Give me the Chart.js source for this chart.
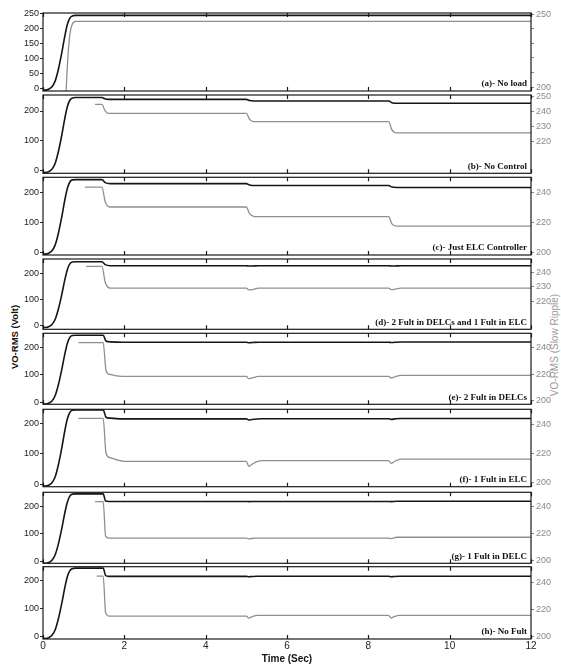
<!DOCTYPE html>
<html>
<head>
<meta charset="utf-8">
<script src="https://cdn.jsdelivr.net/npm/chart.js@4.4.1/dist/chart.umd.min.js"></script>
<style>
html, body { margin: 0; padding: 0; background: #fff; }
#fig { position: relative; width: 561px; height: 667px; overflow: hidden; background: #fff; }
#fig canvas { position: absolute; left: 0; }
.ytitle { position: absolute; white-space: nowrap; transform: translate(-50%, -50%) rotate(-90deg);
          font-family: "Liberation Sans", Arial, sans-serif; }
</style>
</head>
<body>
<div id="fig">
  <div class="ytitle" style="left:14px;top:337px;font-size:9.5px;font-weight:bold;color:#111">VO-RMS (Volt)</div>
  <div class="ytitle" style="left:554px;top:345px;font-size:10px;color:#9a9a9a">VO-RMS (Slow Ripple)</div>
</div>
<script>
// Start-up transient common to every run: time (s) and RMS output voltage (V)
const riseTime  = [0, 0.06, 0.14, 0.22, 0.30, 0.38, 0.46, 0.54, 0.60, 0.66, 0.72];
const riseVolts = [-5, -6, -3, 5, 25, 65, 118, 178, 215, 236, 243];

// Response after start-up for each operating case (load steps near 1.5 s, 5.05 s, 8.55 s)
const noLoadTime  = [0.8, 12];
const noLoadVolts = [245, 245];

const noControlTime  = [0.8, 1.45, 1.52, 1.60, 5.00, 5.08, 5.18, 8.50, 8.58, 8.70, 12];
const noControlVolts = [245, 245, 241, 239, 239, 235, 233.5, 233.5, 228, 226, 226];

const elcOnlyTime  = [0.8, 1.45, 1.53, 1.65, 5.00, 5.08, 5.20, 8.50, 8.58, 8.70, 12];
const elcOnlyVolts = [244, 244, 234, 230.5, 230.5, 226, 224, 224, 219, 217.5, 217.5];

const fault2d1eTime  = [0.8, 1.45, 1.53, 1.65, 5.00, 5.06, 5.15, 5.30, 8.50, 8.56, 8.65, 8.80, 12];
const fault2d1eVolts = [244, 244, 233, 229, 229, 227.8, 228, 229, 229, 228, 228.2, 229, 229];

const fault2dTime  = [0.8, 1.48, 1.55, 1.65, 1.95, 5.00, 5.06, 5.15, 5.30, 8.50, 8.56, 8.65, 8.80, 12];
const fault2dVolts = [244, 244, 223, 220, 218.5, 218.5, 216.8, 217.5, 218.5, 218.5, 217.3, 218.2, 219.3, 219.3];

const fault1eTime  = [0.8, 1.48, 1.55, 1.65, 2.00, 5.00, 5.06, 5.14, 5.26, 5.40, 8.50, 8.56, 8.65, 8.80, 12];
const fault1eVolts = [244, 244, 220, 217, 214.5, 214.5, 211, 212.5, 214.2, 215, 215, 213, 214.5, 216, 216];

const fault1dTime  = [0.8, 1.48, 1.54, 1.62, 5.00, 5.06, 5.20, 8.50, 8.56, 8.70, 12];
const fault1dVolts = [244, 244, 218, 216.5, 216.5, 216, 216.5, 216.5, 216.2, 217.2, 217.2];

const noFaultTime  = [0.8, 1.48, 1.54, 1.62, 5.00, 5.06, 5.13, 5.26, 8.50, 8.56, 8.63, 8.76, 12];
const noFaultVolts = [245, 245, 218, 215.5, 215.5, 214, 214.8, 216, 216, 214, 215, 216, 216];

// Time (s) from which the slow-ripple trace is recorded in each case
const rippleStart = [0, 1.28, 1.03, 1.06, 0.87, 0.87, 1.28, 1.32];

const panelTitles = [
  "(a)- No load",
  "(b)- No Control",
  "(c)- Just ELC Controller",
  "(d)- 2 Fult in DELCs and 1 Fult in ELC",
  "(e)- 2 Fult in DELCs",
  "(f)- 1 Fult in ELC",
  "(g)- 1 Fult in DELC",
  "(h)- No Fult"
];

// Tick values
const timeTicks = [0, 2, 4, 6, 8, 10, 12];
const voltTicksFine = [0, 50, 100, 150, 200, 250];
const voltTicks = [0, 100, 200];
const rippleTicksA = [200, 210, 220, 230, 240, 250];
const rippleLabelsA = [200, 250];
const rippleTicksB = [220, 230, 240, 250];
const rippleTicksD = [220, 230, 240];
const rippleTicks = [200, 220, 240];

const caseTimes = [noLoadTime, noControlTime, elcOnlyTime, fault2d1eTime, fault2dTime, fault1eTime, fault1dTime, noFaultTime];
const caseVolts = [noLoadVolts, noControlVolts, elcOnlyVolts, fault2d1eVolts, fault2dVolts, fault1eVolts, fault1dVolts, noFaultVolts];

// Panel geometry and axis ranges
const panels = [
  { top: 13,    bottom: 91,    left: [-9, 253],    right: [197.3, 250.7], lt: voltTicksFine, rt: rippleTicksA, rl: rippleLabelsA },
  { top: 95,    bottom: 173.3, left: [-8.7, 253.6], right: [199, 251.3],  lt: voltTicks, rt: rippleTicksB },
  { top: 177.3, bottom: 255,   left: [-9, 251.7],  right: [198, 250.6],   lt: voltTicks, rt: rippleTicks },
  { top: 259,   bottom: 329.3, left: [-13, 254.6], right: [200.7, 249],   lt: voltTicks, rt: rippleTicksD },
  { top: 333.3, bottom: 404.3, left: [-7, 251],    right: [197.5, 251],   lt: voltTicks, rt: rippleTicks },
  { top: 409.3, bottom: 486.7, left: [-8, 246],    right: [197, 250.3],   lt: voltTicks, rt: rippleTicks },
  { top: 492.3, bottom: 563.3, left: [-5.7, 249.6], right: [197.6, 251],  lt: voltTicks, rt: rippleTicks },
  { top: 566.7, bottom: 639,   left: [-8, 250],    right: [198.5, 252],   lt: voltTicks, rt: rippleTicks }
];

const SANS = '"Liberation Sans", Arial, sans-serif';
const SERIF = '"Liberation Serif", "Times New Roman", serif';

function fullTrace(i) {
  const t = riseTime.concat(caseTimes[i]);
  const v = riseVolts.concat(caseVolts[i]);
  return t.map((x, k) => ({ x: x, y: v[k] }));
}

function rippleTrace(i) {
  const s = rippleStart[i];
  const all = fullTrace(i);
  if (s === 0) return all;
  const after = all.filter(p => p.x > s);
  // the trace begins on the pre-step plateau
  return [{ x: s, y: after[0].y }].concat(after);
}

// Box frame, inward time ticks on both edges, and the case caption
const framePlugin = {
  id: 'frame',
  afterDatasetsDraw(chart, args, opts) {
    const { ctx, chartArea: a, scales } = chart;
    const x = scales.x;
    ctx.save();
    ctx.strokeStyle = '#1a1a1a';
    ctx.lineWidth = 1.2;
    ctx.strokeRect(a.left, a.top, a.right - a.left, a.bottom - a.top);
    ctx.beginPath();
    timeTicks.forEach(v => {
      const px = Math.round(x.getPixelForValue(v)) + 0.5;
      ctx.moveTo(px, a.top); ctx.lineTo(px, a.top + 4);
      ctx.moveTo(px, a.bottom); ctx.lineTo(px, a.bottom - 4);
    });
    ctx.stroke();
    ctx.font = 'bold 9px ' + SERIF;
    ctx.textAlign = 'right';
    ctx.textBaseline = 'middle';
    ctx.fillStyle = '#111';
    ctx.fillText(opts.title, a.right - 4, a.bottom - 7);
    ctx.restore();
  }
};

const fig = document.getElementById('fig');

panels.forEach((P, i) => {
  const last = i === panels.length - 1;
  const cTop = Math.floor(P.top) - 8;
  const cH = last ? 667 - cTop : Math.ceil(P.bottom) + 8 - cTop;
  const cv = document.createElement('canvas');
  cv.width = 561; cv.height = cH;
  cv.style.top = cTop + 'px';
  cv.style.width = '561px'; cv.style.height = cH + 'px';
  fig.appendChild(cv);

  const rightTicks = P.rt;
  const rightLabels = P.rl || P.rt;

  new Chart(cv.getContext('2d'), {
    type: 'line',
    data: {
      datasets: [
        {
          data: fullTrace(i), yAxisID: 'yL',
          borderColor: '#151515', borderWidth: 1.6, pointRadius: 0,
          cubicInterpolationMode: 'monotone', fill: false
        },
        {
          data: rippleTrace(i), yAxisID: 'yR',
          borderColor: '#8f8f8f', borderWidth: 1.3, pointRadius: 0,
          cubicInterpolationMode: 'monotone', fill: false
        }
      ]
    },
    options: {
      responsive: false,
      devicePixelRatio: 1,
      animation: false,
      events: [],
      layout: { padding: { top: P.top - cTop, bottom: last ? 0 : (cTop + cH - P.bottom), left: 0, right: 0 } },
      plugins: { legend: { display: false }, tooltip: { enabled: false }, frame: { title: panelTitles[i] } },
      scales: {
        x: {
          type: 'linear', min: 0, max: 12, display: last,
          afterBuildTicks: s => { s.ticks = timeTicks.map(v => ({ value: v })); },
          afterFit: s => { if (last) s.height = 28; },
          grid: { display: false, drawTicks: false },
          border: { display: false },
          ticks: { padding: 1, maxRotation: 0, autoSkip: false, color: '#222', font: { size: 10, family: SANS } },
          title: { display: true, text: 'Time (Sec)', color: '#111', font: { size: 10, weight: 'bold', family: SANS }, padding: { top: 0, bottom: 2 } }
        },
        yL: {
          type: 'linear', position: 'left', min: P.left[0], max: P.left[1],
          afterBuildTicks: s => { s.ticks = P.lt.map(v => ({ value: v })); },
          afterFit: s => { s.width = 43; },
          grid: { drawOnChartArea: false, drawTicks: true, tickLength: 3, color: '#222' },
          border: { display: false },
          ticks: { padding: 1, autoSkip: false, color: '#222', font: { size: 9, family: SANS } }
        },
        yR: {
          type: 'linear', position: 'right', min: P.right[0], max: P.right[1],
          afterBuildTicks: s => { s.ticks = rightTicks.map(v => ({ value: v })); },
          afterFit: s => { s.width = 30; },
          grid: { drawOnChartArea: false, drawTicks: true, tickLength: 3, color: '#888' },
          border: { display: false },
          ticks: {
            padding: 2, autoSkip: false, color: '#8a8a8a', font: { size: 9, family: SANS },
            callback: v => (rightLabels.includes(v) ? String(v) : '')
          }
        }
      }
    },
    plugins: [framePlugin]
  });
});
</script>
</body>
</html>
